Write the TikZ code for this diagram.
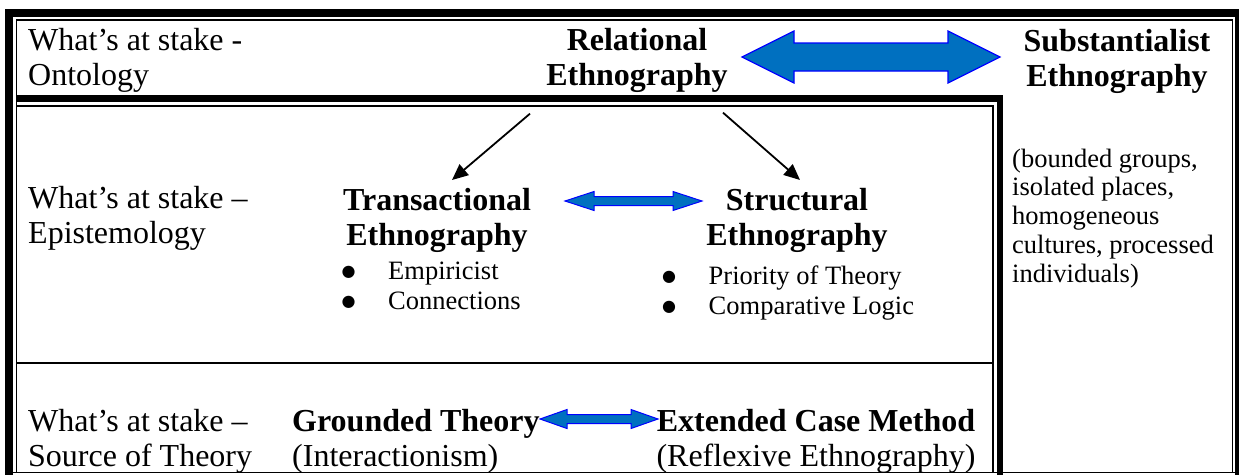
\documentclass[tikz,border=0pt]{standalone}
\usepackage{fontspec}
\setmainfont{Liberation Serif}
\newfontfamily\bulletfont{DejaVu Sans}
\usetikzlibrary{arrows.meta}
\definecolor{arrowblue}{RGB}{0,112,192}
\newcommand{\blt}{\makebox[46.5pt][l]{\raisebox{3pt}{\bulletfont\fontsize{16}{16}\selectfont ●}}}

\begin{document}
\begin{tikzpicture}[x=1pt,y=-1pt,
    stake/.style ={anchor=north west, align=left, inner sep=0pt, font=\fontsize{32}{35}\selectfont},
    heading/.style ={anchor=north, align=center, inner sep=0pt, font=\fontsize{32}{35}\selectfont\bfseries},
    items/.style ={anchor=north west, align=left, inner sep=0pt, font=\fontsize{26.5}{30}\selectfont},
    blockarrow/.style ={draw=blue, fill=arrowblue, line width=1.2pt, line join=miter},
    pointer/.style ={-{Triangle[length=16pt,width=14pt]}, line width=1.8pt},
    thinrule/.style ={line width=1.4pt}]
   \useasboundingbox (0,0) rectangle (1239,475);

   % frame
   \fill (5,8.5) rectangle (1239,16.7);
   \fill (5,8.5) rectangle (13,475);
   \fill (1235,8.5) rectangle (1239,475);
   \draw[thinrule] (16.5,472.5) -- (16.5,20) -- (1232.5,20) -- (1232.5,472.5);
   \draw[thinrule] (5,472.5) -- (1239,472.5);
   \fill (16.5,95) rectangle (1003,102);
   \draw[thinrule] (16.5,106) -- (993,106) -- (993,472.5);
   \fill (997,95) rectangle (1003,475);
   \draw[line width=2pt] (16.5,363) -- (993,363);

   % ontology
   \node[stake] (onto) at (28,28) {What’s at stake -\\Ontology};
   \node[heading] (relat) at (637,28) {Relational\\Ethnography};
   \node[heading] (subst) at (1117,29) {Substantialist\\Ethnography};
   \node[items, font=\fontsize{26.5}{28.8}\selectfont] (groups) at (1012,148.5)
      {(bounded groups,\\isolated places,\\homogeneous\\cultures, processed\\individuals)};

   \coordinate (bigarr) at (742,57);
   \draw[blockarrow] (bigarr) -- ++(52,-26) -- ++(0,12) -- ++(154,0) -- ++(0,-12) -- ++(52,26)
      -- ++(-52,26) -- ++(0,-12) -- ++(-154,0) -- ++(0,12) -- cycle;

   % epistemology
   \node[stake] (episte) at (28,186) {What’s at stake –\\Epistemology};
   \node[heading] (trans) at (437,188) {Transactional\\Ethnography};
   \node[heading] (struct) at (797,188) {Structural\\Ethnography};
   \node[items] (transitems) at (341.5,262) {\blt Empiricist\\\blt Connections};
   \node[items] (structitems) at (662,266) {\blt Priority of Theory\\\blt Comparative Logic};

   \coordinate (transarr) at (565,201);
   \draw[blockarrow, line width=1pt] (transarr) -- ++(29,-9.5) -- ++(0,5) -- ++(79,0) -- ++(0,-5) -- ++(29,9.5)
      -- ++(-29,9.5) -- ++(0,-5) -- ++(-79,0) -- ++(0,5) -- cycle;

   \draw[pointer] ([xshift=-107pt,yshift=-21pt]relat.south) -- ([xshift=15pt,yshift=8pt]trans.north);
   \draw[pointer] ([xshift=86pt,yshift=-20pt]relat.south) -- ([xshift=3pt,yshift=8pt]struct.north);

   % source of theory
   \node[stake] (source) at (28,409) {What’s at stake –\\Source of Theory};
   \node[stake] (grounded) at (292,409) {\textbf{Grounded Theory}\\(Interactionism)};
   \node[heading, font=\fontsize{32}{35}\selectfont] (extended) at (816,409)
      {\textbf{Extended Case Method}\\(Reflexive Ethnography)};

   \coordinate (theoryarr) at (540,419);
   \draw[blockarrow, line width=1pt] (theoryarr) -- ++(27,-9.5) -- ++(0,5) -- ++(64,0) -- ++(0,-5) -- ++(27,9.5)
      -- ++(-27,9.5) -- ++(0,-5) -- ++(-64,0) -- ++(0,5) -- cycle;
\end{tikzpicture}
\end{document}
